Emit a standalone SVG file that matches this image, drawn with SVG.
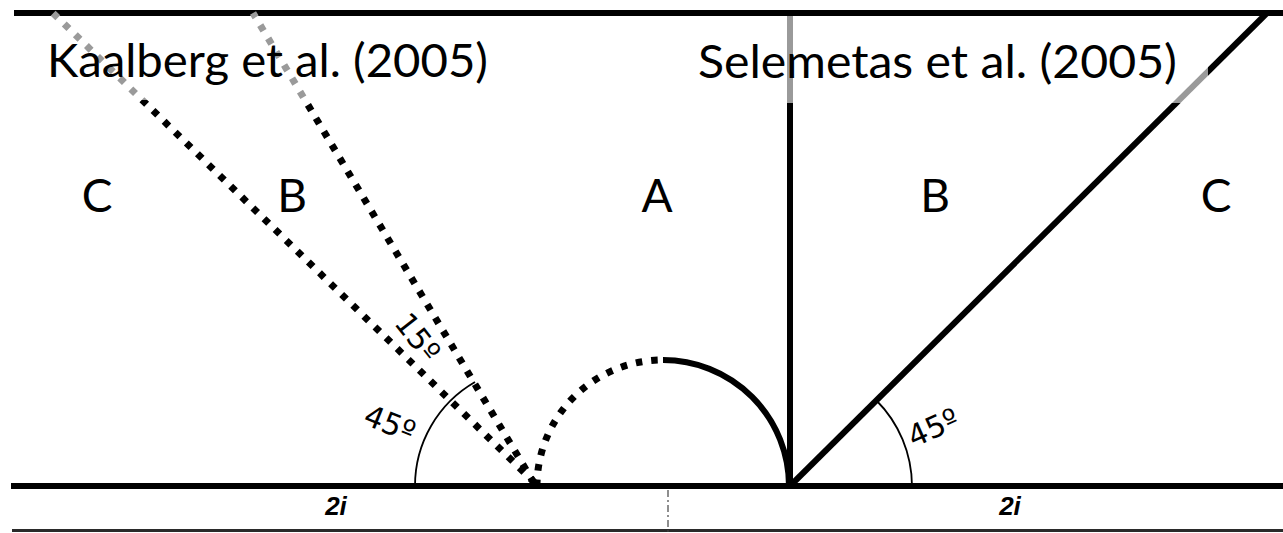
<svg xmlns="http://www.w3.org/2000/svg" width="1283" height="533" viewBox="0 0 1283 533">
  <style>
    .frame { stroke: #000; stroke-width: 6; fill: none; }
    .dot { stroke-width: 7; fill: none; stroke-dasharray: 6.5 9; stroke-linecap: butt; }
    .solid { stroke-width: 6; fill: none; }
    .thin { stroke: #000; stroke-width: 1.8; fill: none; }
    .blk { stroke: #000; }
    .gry { stroke: #9a9a9a; }
    .title { font-family: Lato, "Open Sans", sans-serif; font-size: 46px; fill: #000; }
    .zone { font-family: Lato, "Open Sans", sans-serif; font-size: 46px; fill: #000; text-anchor: middle; }
    .ang { font-family: "DejaVu Sans", sans-serif; font-size: 30px; fill: #000; text-anchor: middle; }
    .dim { font-family: "Liberation Sans", Arial, sans-serif; font-size: 26px; font-weight: bold; font-style: italic; fill: #000; text-anchor: middle; }
  </style>
  <defs>
    <clipPath id="kTop"><rect x="0" y="0" width="660" height="100"/></clipPath>
    <clipPath id="kBot"><rect x="0" y="100" width="660" height="433"/></clipPath>
    <clipPath id="sGray"><rect x="700" y="16" width="508" height="87"/></clipPath>
    <clipPath id="sBlack"><path clip-rule="evenodd" d="M700 0H1283V533H700Z M700 16H1208V103H700Z"/></clipPath>
  </defs>
  <rect width="1283" height="533" fill="#fff"/>

  <g id="frame">
    <line class="frame" x1="14" y1="13" x2="1283" y2="13"/>
    <line class="frame" x1="11" y1="486" x2="1283" y2="486"/>
    <line x1="12" y1="530.5" x2="1283" y2="530.5" stroke="#2a2a2a" stroke-width="3"/>
    <line x1="668" y1="490" x2="668" y2="533" stroke="#444" stroke-width="1.2" stroke-dasharray="7 3 2 3"/>
  </g>

  <g id="connectors">
    <g id="kaalberg-lines">
      <g clip-path="url(#kBot)" class="blk">
        <path class="dot" d="M535 483 L53 13"/>
        <path class="dot" d="M534 483 L253 13"/>
      </g>
      <g clip-path="url(#kTop)" class="gry">
        <path class="dot" d="M535 483 L53 13"/>
        <path class="dot" d="M534 483 L253 13"/>
      </g>
    </g>
    <g id="semicircle">
      <path class="dot blk" d="M537 486 A126 126 0 0 1 663 360"/>
      <path class="solid blk" d="M663 360 A126 126 0 0 1 789 486"/>
    </g>
    <g id="selemetas-lines">
      <g clip-path="url(#sBlack)" class="blk">
        <path class="solid" d="M790 486 V13"/>
        <path class="solid" d="M790 486 L1267 13"/>
      </g>
      <g clip-path="url(#sGray)" class="gry">
        <path class="solid" d="M790 486 V13"/>
        <path class="solid" d="M790 486 L1267 13"/>
      </g>
    </g>
    <g id="angle-arcs">
      <path class="thin" d="M415 486 A120 120 0 0 1 475 382"/>
      <path class="thin" d="M912 486 A122 122 0 0 0 876 400"/>
    </g>
  </g>

  <g id="title-kaalberg"><text class="title" x="47" y="77" textLength="441" lengthAdjust="spacingAndGlyphs">Kaalberg et al. (2005)</text></g>
  <g id="title-selemetas"><text class="title" x="698" y="78" textLength="479" lengthAdjust="spacingAndGlyphs">Selemetas et al. (2005)</text></g>

  <g id="zone-C-left"><text class="zone" x="97" y="212">C</text></g>
  <g id="zone-B-left"><text class="zone" x="292" y="212">B</text></g>
  <g id="zone-A"><text class="zone" x="657" y="212">A</text></g>
  <g id="zone-B-right"><text class="zone" x="935" y="212">B</text></g>
  <g id="zone-C-right"><text class="zone" x="1216" y="212">C</text></g>

  <g id="angle-45-left"><text class="ang" transform="translate(390 423) rotate(22)" y="11">45º</text></g>
  <g id="angle-15"><text class="ang" transform="translate(418 337) rotate(52)" y="11">15º</text></g>
  <g id="angle-45-right"><text class="ang" transform="translate(933 427) rotate(-24)" y="11">45º</text></g>

  <g id="dim-left"><text class="dim" x="336" y="515">2i</text></g>
  <g id="dim-right"><text class="dim" x="1010" y="515">2i</text></g>
</svg>
